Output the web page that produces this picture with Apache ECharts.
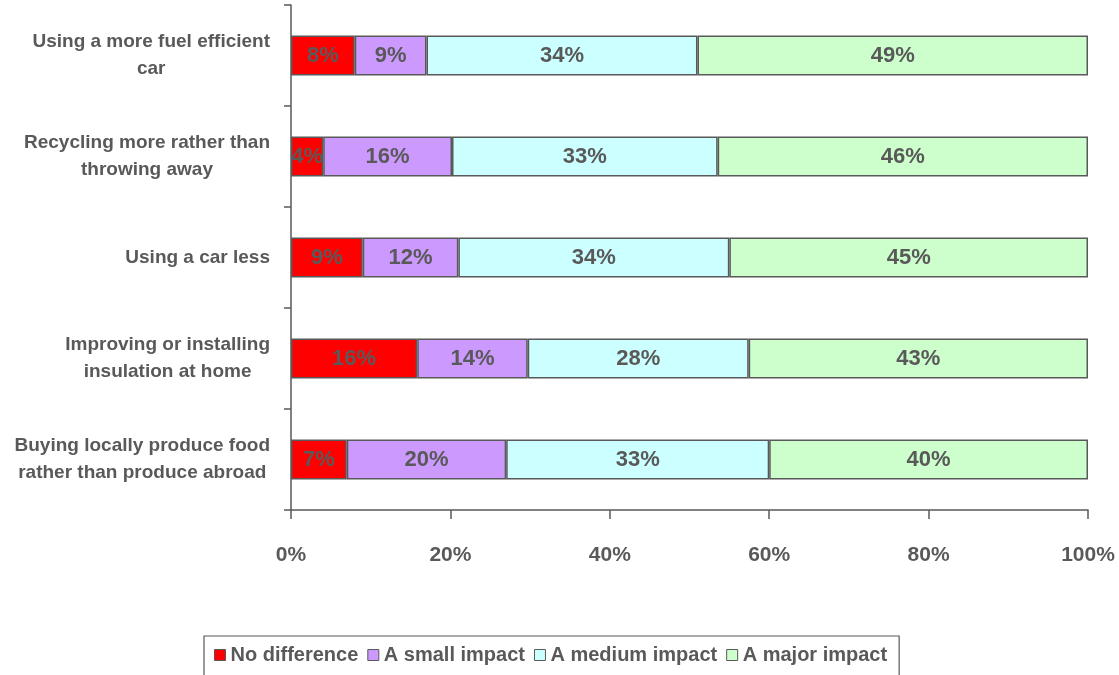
<!DOCTYPE html>
<html>
<head>
<meta charset="utf-8">
<script src="https://cdn.jsdelivr.net/npm/echarts@6/dist/echarts.min.js"></script>
<style>
  html, body { margin: 0; padding: 0; background: #fff; }
  #chart { width: 1119px; height: 675px; }
</style>
</head>
<body>
<div id="chart"></div>
<script>
// Survey answers: how much difference each action makes
const categories = [
  'Using a more fuel efficient\ncar',
  'Recycling more rather than\nthrowing away',
  'Using a car less',
  'Improving or installing\ninsulation at home',
  'Buying locally produce food\nrather than produce abroad'
];
const seriesNames = ['No difference', 'A small impact', 'A medium impact', 'A major impact'];
const noDifference = [8, 4, 9, 16, 7];
const smallImpact  = [9, 16, 12, 14, 20];
const mediumImpact = [34, 33, 34, 28, 33];
const majorImpact  = [49, 46, 45, 43, 40];
const xTickLabels = ['0%', '20%', '40%', '60%', '80%', '100%'];
const colors = ['#FF0000', '#CC99FF', '#CCFFFF', '#CCFFCC'];

const rawSeries = [noDifference, smallImpact, mediumImpact, majorImpact];
// each row is scaled to a 100% bar
const totals = categories.map((_, i) => rawSeries.reduce((s, arr) => s + arr[i], 0));

const font = '"Liberation Sans", Arial, sans-serif';
const textColor = '#595959';
const lineColor = '#595959';

const chart = echarts.init(document.getElementById('chart'), null, { renderer: 'canvas' });

chart.setOption({
  animation: false,
  textStyle: { fontFamily: font },
  grid: { left: 291, right: 31, top: 5, bottom: 165, containLabel: false },
  xAxis: {
    type: 'value',
    min: 0, max: 100, interval: 20,
    axisLine: { show: true, lineStyle: { color: lineColor, width: 1.5 } },
    axisTick: { show: true, length: 9, lineStyle: { color: lineColor, width: 1.5 } },
    splitLine: { show: false },
    axisLabel: {
      margin: 35,
      color: textColor, fontSize: 21, fontWeight: 'bold', fontFamily: font,
      formatter: (v) => xTickLabels[Math.round(v / 20)]
    }
  },
  yAxis: {
    type: 'category',
    data: categories,
    inverse: true,
    axisLine: { show: true, lineStyle: { color: lineColor, width: 1.5 } },
    axisTick: { show: true, length: 7, lineStyle: { color: lineColor, width: 1.5 } },
    axisLabel: {
      margin: 21,
      align: 'right',
      color: textColor, fontSize: 19, fontWeight: 'bold', fontFamily: font,
      // lines of a label are centred on each other, block is right-aligned
      formatter: (v) => v.split('\n').map((line) => '{c|' + line + '}').join('\n'),
      rich: {
        c: {
          align: 'center', color: textColor, fontSize: 19, fontWeight: 'bold',
          fontFamily: font, lineHeight: 27
        }
      }
    }
  },
  legend: {
    data: seriesNames,
    left: 204, top: 636,
    orient: 'horizontal',
    itemWidth: 11, itemHeight: 11, itemGap: 9,
    padding: [9, 12, 30, 10],
    borderColor: lineColor, borderWidth: 1.2,
    textStyle: { color: textColor, fontSize: 20, fontWeight: 'bold', fontFamily: font },
    icon: 'rect',
    itemStyle: { borderColor: lineColor, borderWidth: 1 }
  },
  series: rawSeries.map((arr, s) => ({
    name: seriesNames[s],
    type: 'bar',
    stack: 'total',
    barWidth: 40,
    itemStyle: { color: colors[s], borderColor: lineColor, borderWidth: 1.5 },
    label: {
      show: true,
      position: 'inside',
      color: textColor, fontSize: 22, fontWeight: 'bold', fontFamily: font,
      formatter: (p) => arr[p.dataIndex] + '%'
    },
    data: arr.map((v, i) => v / totals[i] * 100)
  }))
});
</script>
</body>
</html>
